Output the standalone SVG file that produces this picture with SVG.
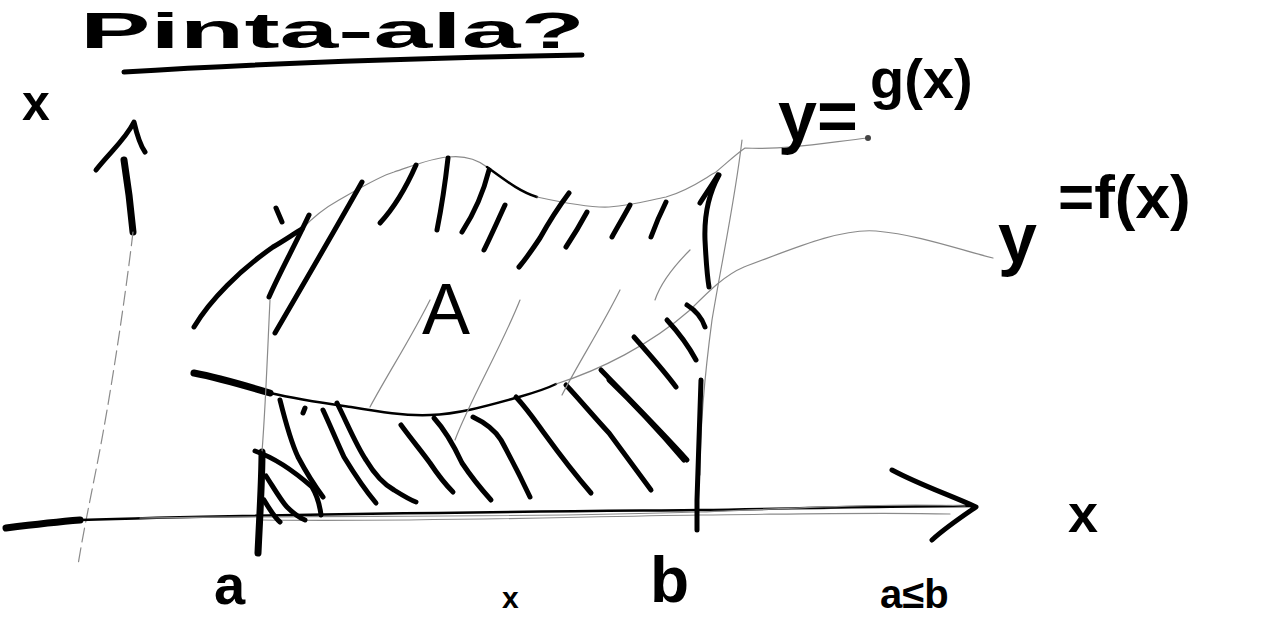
<svg xmlns="http://www.w3.org/2000/svg" width="1266" height="622" viewBox="0 0 1266 622">
<style>
.ink{fill:none;stroke:#000;stroke-linecap:round;stroke-linejoin:round}
.th{stroke-width:7}
.md{stroke-width:5}
.tn{stroke-width:2.5}
.faint{fill:none;stroke:#8a8a8a;stroke-width:1.2;stroke-linecap:round}
.hand{font-family:"Liberation Sans","DejaVu Sans",sans-serif;fill:#000}
.bold{font-weight:bold}
</style>
<rect width="1266" height="622" fill="#fff"/>

<g id="title">
<text class="hand bold" x="80" y="48" font-size="50" textLength="505" lengthAdjust="spacingAndGlyphs">Pinta-ala?</text>
<path class="ink md" d="M124,72 C250,64 420,58 582,55"/>
</g>

<g id="y-axis">
<path class="ink th" d="M124,160 C128,185 131,210 133,232"/>
<path class="faint" d="M133,232 C125,300 110,400 96,470 C88,510 82,540 78,565" stroke-dasharray="14 6"/>
<path class="ink md" d="M96,170 C110,152 125,140 134,122 C137,135 140,145 145,152"/>
<text class="hand bold" x="22" y="120" font-size="50">x</text>
</g>

<g id="x-axis">
<path class="ink th" d="M6,528 C30,525 55,522 80,520"/>
<path class="ink tn" d="M80,520 C250,514 500,512 700,510 C820,508 900,506 975,506"/>
<path class="faint" d="M140,518 C350,515 520,518 700,512 C820,507 900,503 965,506"/>
<path class="faint" d="M260,520 C420,522 560,517 700,515 C800,514 880,512 950,514"/>
<path class="ink md" d="M892,470 C920,485 950,495 976,507 C960,518 945,528 932,540"/>
<text class="hand bold" x="1068" y="532" font-size="54">x</text>
</g>

<g id="curve-g">
<path class="ink md" d="M194,327 C210,300 240,270 273,247 C285,240 295,233 302,229"/>
<path class="faint" d="M302,229 C315,215 330,205 339,200 C360,188 380,176 394,172 C415,165 432,158 448,157 C465,155 478,160 487,167"/>
<path class="ink tn" d="M487,167 C505,180 520,192 537,197"/>
<path class="faint" d="M537,197 C560,202 590,208 609,207 C635,205 650,200 666,197 C690,190 705,178 716,172 C728,162 735,155 745,148 C790,150 830,142 868,138"/>
<circle cx="868" cy="138" r="3" fill="#444"/>
<text class="hand bold" x="778" y="140" font-size="70">y=</text>
<text class="hand bold" x="870" y="98" font-size="56">g(x)</text>
</g>

<g id="curve-f">
<path class="ink th" d="M194,373 C220,378 250,387 270,393"/>
<path class="ink tn" d="M270,393 C300,400 330,404 351,407 C380,412 405,416 430,415 C460,414 490,405 519,397 C540,391 550,387 556,384"/>
<path class="faint" d="M556,384 C600,370 650,345 690,310 C710,290 725,275 744,267 C790,250 840,228 876,231 C920,235 960,250 993,258"/>
<text class="hand bold" x="998" y="262" font-size="70">y</text>
<text class="hand bold" x="1058" y="218" font-size="62">=f(x)</text>
</g>

<g id="point-a">
<path class="ink th" d="M262,452 C262,480 260,510 258,553"/>
<path class="faint" d="M270,300 C268,340 266,400 262,452"/>
<path class="ink md" d="M255,451 C275,458 295,472 312,487 C318,497 320,507 321,515"/>
<path class="ink md" d="M266,476 C275,490 282,502 287,507 C295,515 300,518 305,520"/>
<path class="ink md" d="M264,500 C270,510 275,518 280,522"/>
<text class="hand bold" x="214" y="604" font-size="56">a</text>
</g>

<g id="point-b">
<path class="faint" d="M742,140 C735,200 722,260 712,320 C704,380 700,440 700,475"/>
<path class="ink md" d="M701,380 C700,420 698,460 697,500 C697,512 697,520 697,530"/>
<text class="hand bold" x="650" y="602" font-size="64">b</text>
</g>

<g id="region-A">
<path class="ink md" d="M276,208 L282,222"/>
<path class="ink md" d="M309,215 C295,245 280,272 269,297"/>
<path class="ink md" d="M362,182 C335,230 300,290 275,333"/>
<path class="ink md" d="M416,165 C405,190 392,210 380,223"/>
<path class="ink md" d="M448,158 C445,185 441,210 437,230"/>
<path class="ink md" d="M489,170 C484,190 475,212 462,232"/>
<path class="ink md" d="M505,205 C498,220 490,238 484,250"/>
<path class="ink md" d="M569,193 C560,205 550,220 540,238 C532,250 525,260 519,267"/>
<path class="ink md" d="M587,212 C580,225 572,238 566,247"/>
<path class="ink md" d="M630,205 C624,216 617,228 612,237"/>
<path class="ink md" d="M666,202 C660,214 655,226 651,237"/>
<path class="ink md" d="M719,175 C708,195 704,215 705,240 C706,260 707,275 709,287"/>
<path class="ink md" d="M718,175 C712,185 705,195 700,203"/>
<path class="ink md" d="M687,305 C695,310 702,318 705,327"/>
<path class="ink md" d="M667,320 C678,332 688,345 696,360"/>
<path class="ink md" d="M634,337 C650,355 665,372 676,387"/>
<path class="ink md" d="M601,370 C625,395 660,430 687,460"/>
<path class="ink md" d="M609,380 C635,405 660,432 684,460"/>
<path class="ink md" d="M566,385 C580,400 595,418 609,433 C625,455 640,475 651,490"/>
<path class="ink md" d="M516,397 C528,410 536,422 544,433 C560,455 578,478 591,493"/>
<path class="ink md" d="M473,417 C488,424 496,432 501,440 C512,460 522,480 530,497"/>
<path class="ink md" d="M434,418 C445,430 455,448 462,463 C472,478 482,490 491,500"/>
<path class="ink md" d="M401,425 C412,440 422,452 430,463 C438,475 446,485 453,492"/>
<path class="ink md" d="M337,403 C348,425 356,445 366,460 C375,475 385,485 394,490 C402,495 410,500 416,502"/>
<path class="ink md" d="M323,410 C330,425 337,442 344,457 C355,475 365,490 376,503"/>
<path class="ink md" d="M305,408 L303,413"/>
<path class="ink md" d="M280,400 C285,420 290,440 298,457 C306,472 314,485 323,497"/>
<path class="faint" d="M430,300 C410,340 390,370 370,407"/>
<path class="faint" d="M520,300 C500,350 470,400 455,440"/>
<path class="faint" d="M620,290 C600,330 580,360 562,395"/>
<path class="faint" d="M690,250 C670,270 660,285 655,300"/>
<text class="hand" x="422" y="334" font-size="72">A</text>
</g>

<g id="bottom-text">
<text class="hand bold" x="502" y="608" font-size="30">x</text>
<text class="hand bold" x="880" y="608" font-size="40">a≤b</text>
</g>
</svg>
